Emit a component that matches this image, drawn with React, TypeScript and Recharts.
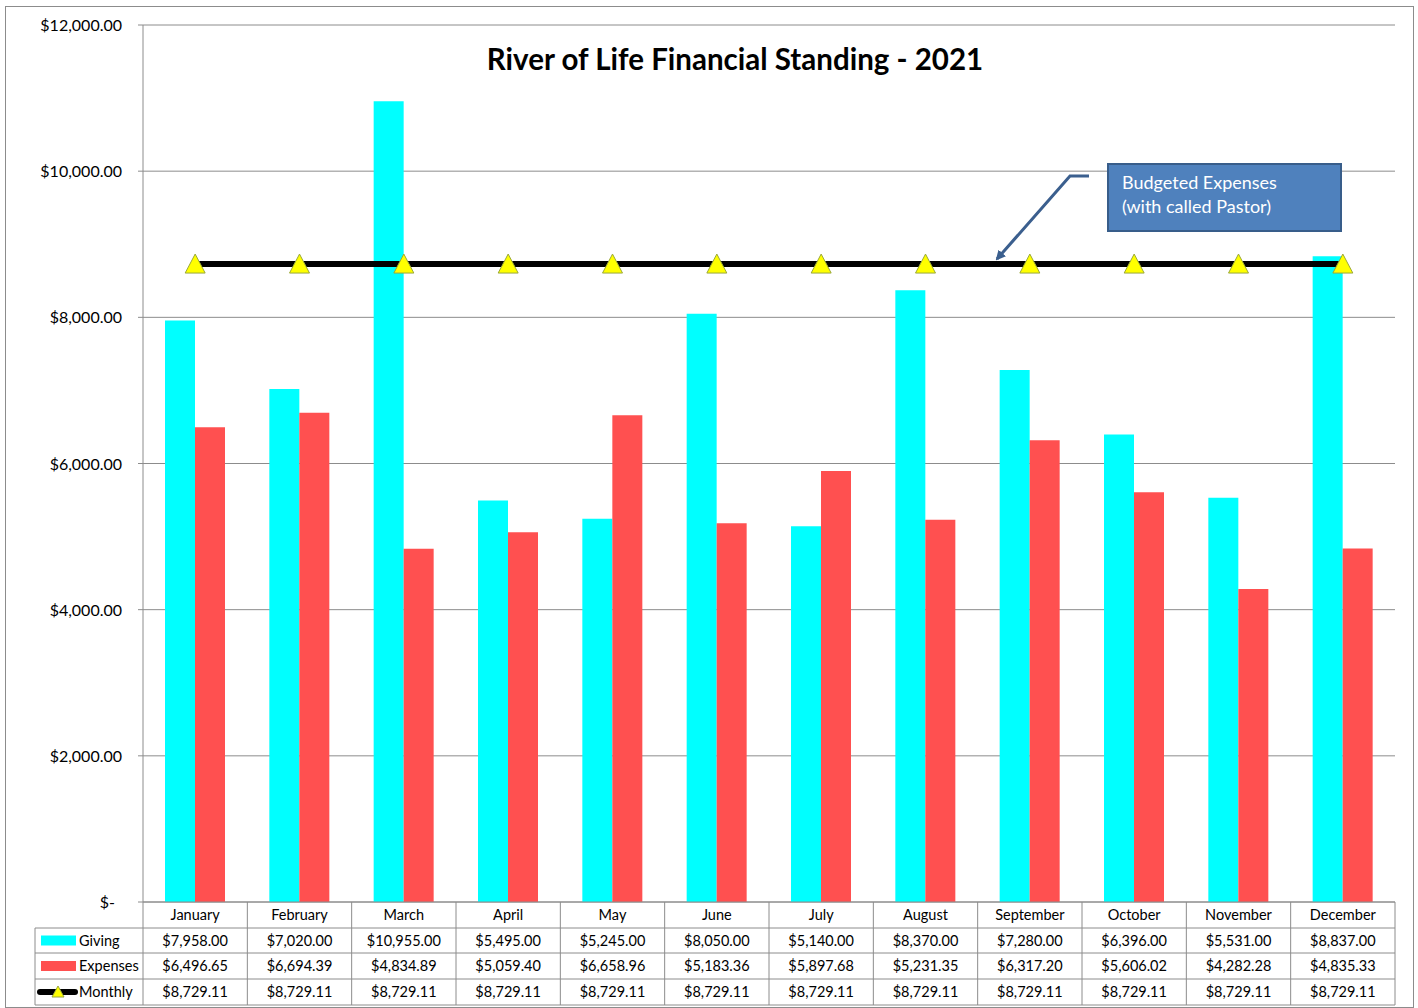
import React from 'react';
import { ComposedChart, Bar, Line, XAxis, YAxis, CartesianGrid } from 'recharts';

const months = ['January', 'February', 'March', 'April', 'May', 'June', 'July', 'August', 'September', 'October', 'November', 'December'];
const giving = [7958, 7020, 10955, 5495, 5245, 8050, 5140, 8370, 7280, 6396, 5531, 8837];
const expenses = [6496.65, 6694.39, 4834.89, 5059.4, 6658.96, 5183.36, 5897.68, 5231.35, 6317.2, 5606.02, 4282.28, 4835.33];
const monthly = [8729.11, 8729.11, 8729.11, 8729.11, 8729.11, 8729.11, 8729.11, 8729.11, 8729.11, 8729.11, 8729.11, 8729.11];
const yTicks = [0, 2000, 4000, 6000, 8000, 10000, 12000];

const data = months.map((m, i) => ({ month: m, giving: giving[i], expenses: expenses[i], monthly: monthly[i] }));

const W = 1418;
const H = 1008;
const PLOT_LEFT = 143;
const PLOT_RIGHT = 1395;
const PLOT_TOP = 25;
const PLOT_BOTTOM = 902;
const BAND = (PLOT_RIGHT - PLOT_LEFT) / months.length;
const GRID = '#8c8c8c';
const FONT = 'Lato, "Open Sans", sans-serif';

const money = (v: number) => '$' + v.toLocaleString('en-US', { minimumFractionDigits: 2, maximumFractionDigits: 2 });

const YTick = (props: any) => {
  const { x, y, payload } = props;
  const zero = payload.value === 0;
  return (
    <text x={x - 14 - (zero ? 7 : 0)} y={y} dy={6} textAnchor="end" fontSize={16} fill="#000" fontFamily={FONT}>
      {zero ? '$-' : money(payload.value)}
    </text>
  );
};

const Triangle = (props: any) => {
  const { cx, cy } = props;
  if (cx == null || cy == null) return null;
  return (
    <polygon
      points={`${cx},${cy - 10} ${cx - 10},${cy + 9} ${cx + 10},${cy + 9}`}
      fill="#ffff00"
      stroke="#9aa83a"
      strokeWidth={1}
    />
  );
};

const rows = [
  { label: 'Giving', values: giving, key: 'giving' },
  { label: 'Expenses', values: expenses, key: 'expenses' },
  { label: 'Monthly', values: monthly, key: 'monthly' },
];

const DataTable = () => {
  const rowTops = [902, 928, 953, 979, 1005];
  const tableLeft = 35;
  return (
    <svg width={W} height={H} style={{ position: 'absolute', left: 0, top: 0, pointerEvents: 'none' }}>
      {/* month row */}
      <line x1={PLOT_LEFT} x2={PLOT_RIGHT} y1={rowTops[0]} y2={rowTops[0]} stroke={GRID} />
      {months.map((m, i) => (
        <text key={m} x={PLOT_LEFT + BAND * (i + 0.5)} y={(rowTops[0] + rowTops[1]) / 2 + 5} textAnchor="middle" fontSize={14.5} fontFamily={FONT}>
          {m}
        </text>
      ))}
      {rowTops.slice(1).map((y) => (
        <line key={y} x1={tableLeft} x2={PLOT_RIGHT} y1={y} y2={y} stroke={GRID} />
      ))}
      <line x1={tableLeft} x2={tableLeft} y1={rowTops[1]} y2={rowTops[4]} stroke={GRID} />
      {months.map((m, i) => (
        <line key={'v' + m} x1={PLOT_LEFT + BAND * i} x2={PLOT_LEFT + BAND * i} y1={rowTops[0]} y2={rowTops[4]} stroke={GRID} />
      ))}
      <line x1={PLOT_RIGHT} x2={PLOT_RIGHT} y1={rowTops[0]} y2={rowTops[4]} stroke={GRID} />
      {rows.map((r, ri) => {
        const yc = (rowTops[ri + 1] + rowTops[ri + 2]) / 2;
        return (
          <g key={r.key}>
            {r.key === 'giving' && <rect x={41} y={yc - 5} width={35} height={10} fill="#00ffff" />}
            {r.key === 'expenses' && <rect x={41} y={yc - 5} width={35} height={10} fill="#ff5050" />}
            {r.key === 'monthly' && (
              <g>
                <line x1={40} x2={75} y1={yc} y2={yc} stroke="#000" strokeWidth={6} strokeLinecap="round" />
                <polygon points={`${58},${yc - 6} ${52},${yc + 5} ${64},${yc + 5}`} fill="#ffff00" stroke="#9aa83a" />
              </g>
            )}
            <text x={79} y={yc + 5} fontSize={14.5} fontFamily={FONT}>{r.label}</text>
            {r.values.map((v, i) => (
              <text key={i} x={PLOT_LEFT + BAND * (i + 0.5)} y={yc + 5} textAnchor="middle" fontSize={14.5} fontFamily={FONT}>
                {money(v)}
              </text>
            ))}
          </g>
        );
      })}
      {/* callout */}
      <defs>
        <marker id="arrowHead" markerWidth="10" markerHeight="10" refX="8" refY="5" orient="auto" markerUnits="userSpaceOnUse">
          <path d="M0,0 L10,5 L0,10 z" fill="#3b5f8e" />
        </marker>
      </defs>
      <polyline points="1089,176 1070,176 997,259" fill="none" stroke="#3b5f8e" strokeWidth={3} markerEnd="url(#arrowHead)" />
      <rect x={1108} y={164} width={233} height={67} fill="#4f81bd" stroke="#385d8a" strokeWidth={2} />
      <text x={1122} y={189} fontSize={18} fill="#fff" fontFamily={FONT}>Budgeted Expenses</text>
      <text x={1122} y={213} fontSize={18} fill="#fff" fontFamily={FONT}>(with called Pastor)</text>
    </svg>
  );
};

export default function App() {
  return (
    <div style={{ position: 'absolute', left: 0, top: 0, width: W, height: H, background: '#fff', fontFamily: FONT }}>
      <div style={{ position: 'absolute', left: 5, top: 6, width: 1407, height: 1000, border: `1px solid ${GRID}` }} />
      <ComposedChart
        width={W}
        height={H}
        data={data}
        margin={{ top: PLOT_TOP, right: W - PLOT_RIGHT, bottom: H - PLOT_BOTTOM, left: 0 }}
        barGap={0}
        style={{ position: 'absolute', left: 0, top: 0 }}
      >
        <CartesianGrid vertical={false} stroke={GRID} />
        <XAxis dataKey="month" hide />
        <YAxis
          width={PLOT_LEFT}
          domain={[0, 12000]}
          ticks={yTicks}
          interval={0}
          tick={<YTick />}
          tickSize={5}
          axisLine={{ stroke: GRID }}
          tickLine={{ stroke: GRID }}
        />
        <Bar dataKey="giving" fill="#00ffff" barSize={30} isAnimationActive={false} />
        <Bar dataKey="expenses" fill="#ff5050" barSize={30} isAnimationActive={false} />
        <Line dataKey="monthly" stroke="#000" strokeWidth={6} dot={<Triangle />} activeDot={false} isAnimationActive={false} />
      </ComposedChart>
      <div
        style={{
          position: 'absolute',
          left: 735,
          top: 41,
          transform: 'translateX(-50%)',
          whiteSpace: 'nowrap',
          fontSize: 29.5,
          fontWeight: 'bold',
          fontFamily: FONT,
          color: '#000',
        }}
      >
        River of Life Financial Standing - 2021
      </div>
      <DataTable />
    </div>
  );
}
